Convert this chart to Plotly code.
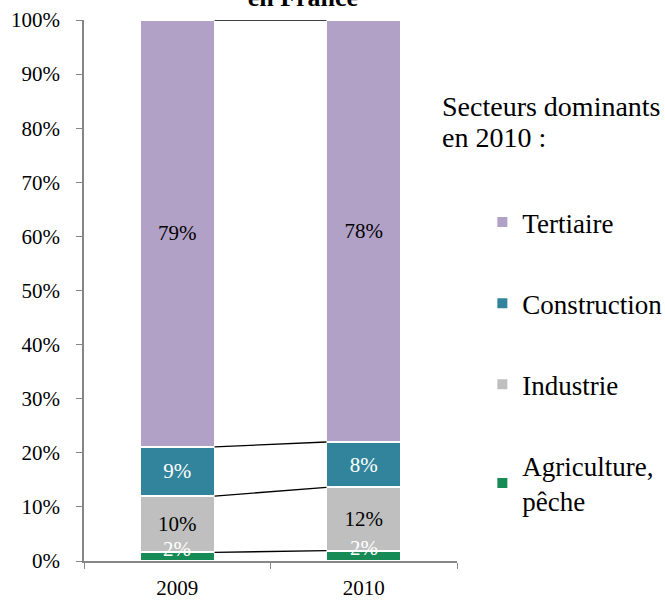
import plotly.graph_objects as go

years = ["2009", "2010"]
sectors = ["Agriculture,<br>pêche", "Industrie", "Construction", "Tertiaire"]
agriculture = [1.6, 1.9]
industrie = [10.4, 11.7]
construction = [9.1, 8.4]
tertiaire = [78.9, 78.0]
y_ticks = [0, 10, 20, 30, 40, 50, 60, 70, 80, 90, 100]
y_ticklabels = [f"{v}%" for v in y_ticks]

series = [agriculture, industrie, construction, tertiaire]
colors = ["#178B56", "#BFBFBF", "#31849B", "#B2A1C7"]
text_colors = ["white", "black", "white", "black"]
ranks = [4, 3, 2, 1]

FONT = "Liberation Serif"
BAR_W = 0.4

fig = go.Figure()
for i, (name, vals, col, tc, rk) in enumerate(zip(sectors, series, colors, text_colors, ranks)):
    fig.add_trace(go.Bar(
        x=years, y=vals, name=name, legendgroup=name, legendrank=rk,
        marker=dict(color=col, line=dict(color="white", width=2)),
        width=BAR_W,
        texttemplate="" if i == 0 else "%{y:.0f}%", textposition="inside",
        insidetextanchor="middle", constraintext="none", textangle=0,
        textfont=dict(family=FONT, size=21, color=tc),
        hoverinfo="skip",
    ))

# series lines between bars (cumulative tops)
cum = [0.0, 0.0]
for vals in series:
    cum = [c + v for c, v in zip(cum, vals)]
    fig.add_trace(go.Scatter(
        x=[BAR_W / 2, 1 - BAR_W / 2], y=cum, xaxis="x2", mode="lines",
        line=dict(color="black", width=1.3), showlegend=False, hoverinfo="skip",
    ))

annotations = [
    dict(text="Secteurs dominants", xref="paper", yref="paper",
         x=0.955, y=0.8392, xanchor="left", yanchor="middle", align="left",
         showarrow=False, font=dict(family=FONT, size=28)),
    dict(text="en 2010 :", xref="paper", yref="paper",
         x=0.955, y=0.7819, xanchor="left", yanchor="middle", align="left",
         showarrow=False, font=dict(family=FONT, size=28)),
    dict(text="<b>Répartition des emplois par secteur<br>en France</b>",
         xref="paper", yref="paper", x=0.587, y=1.011,
         xanchor="center", yanchor="bottom", showarrow=False,
         font=dict(family=FONT, size=26)),
]
# small agriculture labels overflow above their thin segment
for idx, v in enumerate(agriculture):
    annotations.append(dict(
        text=f"{v:.0f}%", x=idx, y=v, xref="x2", yref="y", yanchor="middle",
        yshift=3, showarrow=False, font=dict(family=FONT, size=21, color="white"),
    ))

fig.update_layout(
    width=665, height=600,
    margin=dict(l=84, r=208, t=20, b=39, autoexpand=False),
    barmode="stack",
    plot_bgcolor="white", paper_bgcolor="white",
    font=dict(family=FONT, size=21, color="black"),
    xaxis=dict(
        type="category", tickson="boundaries", ticks="outside", ticklen=6,
        tickcolor="#868686", showline=True, linecolor="#868686", linewidth=1.5,
        showgrid=False, tickfont=dict(size=21), range=[-0.5, 1.5],
        automargin=False, ticklabelstandoff=7,
    ),
    xaxis2=dict(overlaying="x", range=[-0.5, 1.5], visible=False),
    yaxis=dict(
        range=[0, 100], tickvals=y_ticks, ticktext=y_ticklabels,
        ticks="outside", ticklen=6, tickcolor="#868686",
        showline=True, linecolor="#868686", linewidth=1.5,
        showgrid=False, zeroline=False, tickfont=dict(size=21),
        ticklabelstandoff=12, automargin=False,
    ),
    legend=dict(
        x=1.068, y=0.671, xanchor="left", yanchor="top",
        traceorder="grouped", tracegroupgap=43,
        font=dict(family=FONT, size=27), bgcolor="rgba(0,0,0,0)",
        itemclick=False,
    ),
    showlegend=True,
    annotations=annotations,
)

fig.write_html("out.html", config={"displayModeBar": False},
               post_script="document.body.style.margin='0';")
